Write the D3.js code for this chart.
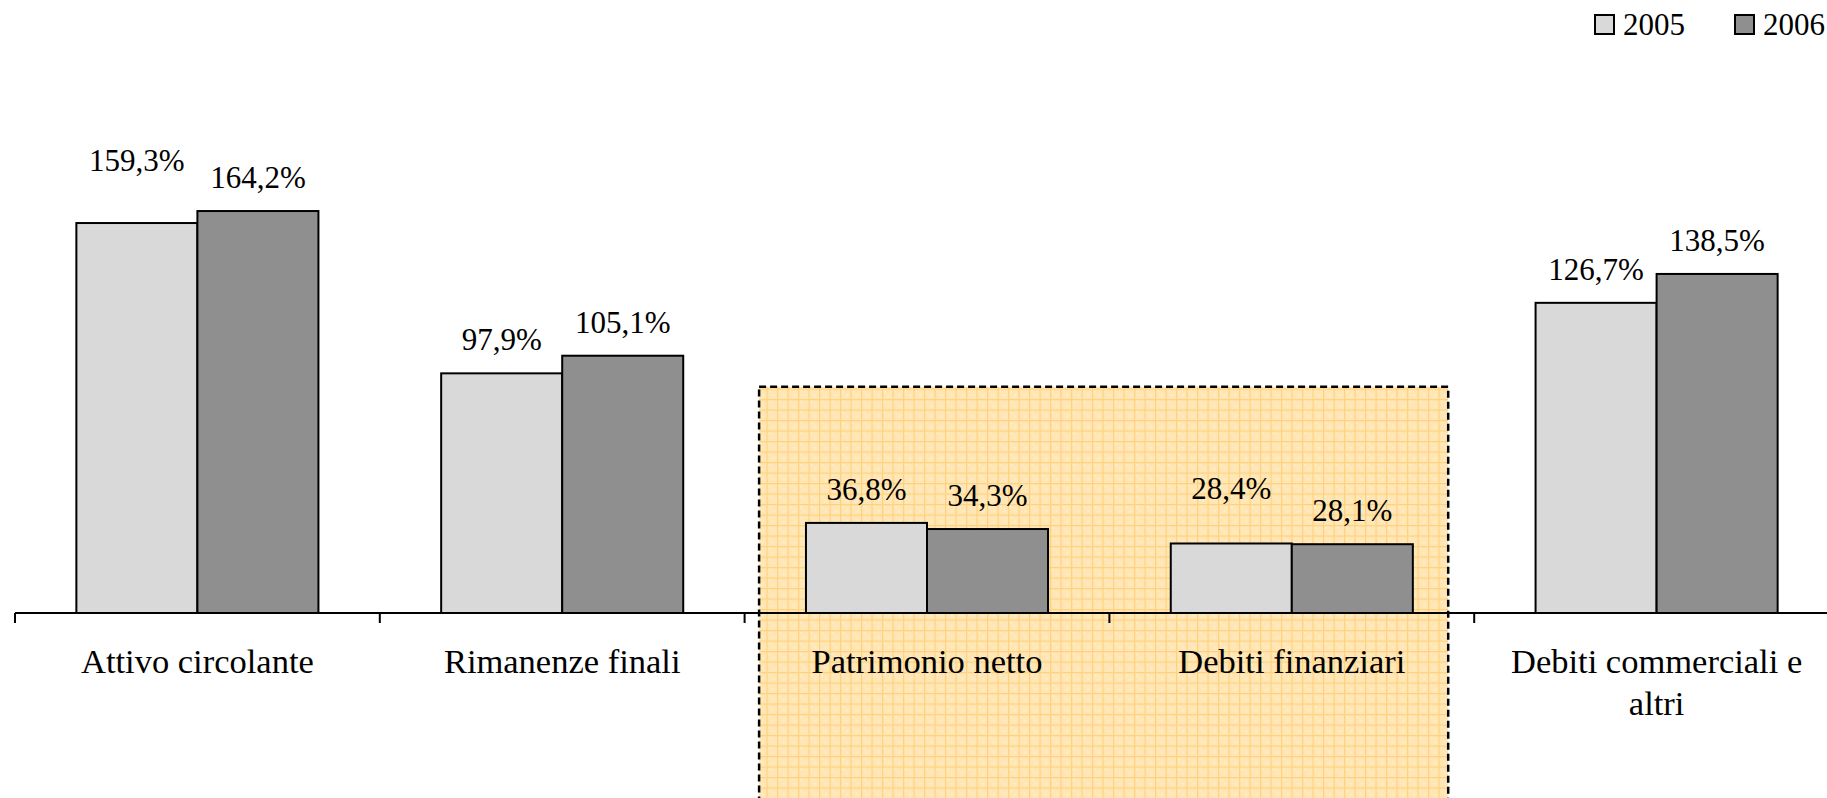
<!DOCTYPE html>
<html>
<head>
<meta charset="utf-8" />
<title>Indici di rotazione 2005-2006</title>
<style>
html, body {
    margin: 0;
    padding: 0;
    background: #fff;
}
#chart {
    width: 1827px;
    height: 798px;
    overflow: hidden;
}
text {
    font-family: "Liberation Serif", "Times New Roman", serif;
    fill: #000;
}
</style>
</head>
<body>
<div id="chart"></div>
<script src="https://cdnjs.cloudflare.com/ajax/libs/d3/7.8.5/d3.min.js"></script>
<script>
// data
var categories = ["Attivo circolante", "Rimanenze finali", "Patrimonio netto", "Debiti finanziari", "Debiti commerciali e altri"]
var years = ["2005", "2006"]
var values2005 = [159.3, 97.9, 36.8, 28.4, 126.7]
var values2006 = [164.2, 105.1, 34.3, 28.1, 138.5]
var highlighted = ["Patrimonio netto", "Debiti finanziari"]

!(function(){
    "use strict"

    var width = 1827, height = 798
    var margin = {top: 0, left: 15, bottom: 185, right: 0}
    var baseline = height - margin.bottom   // 613
    var step = 364.8

    var fills = {"2005": "#d9d9d9", "2006": "#8f8f8f"}

    // a couple of labels were nudged upward by hand in the original
    var labelShift = {"Attivo circolante|2005": -29, "Debiti finanziari|2005": -21}

    var svg = d3.select("#chart").append("svg")
        .attr("width", width)
        .attr("height", height)

    var rows = categories.map(function(c, i) {
        return {cat: c, vals: [
            {cat: c, year: "2005", v: values2005[i]},
            {cat: c, year: "2006", v: values2006[i]}
        ]}
    })

    var x0 = d3.scaleBand()
        .domain(categories)
        .range([margin.left, margin.left + step * categories.length])
        .padding(0)

    var x1 = d3.scaleBand()
        .domain(years)
        .range([0, x0.bandwidth()])
        .paddingInner(0)
        .paddingOuter(0.507)

    var y = d3.scaleLinear()
        .domain([0, 180])
        .range([baseline, baseline - 180 * 2.448])

    // hatched highlight box behind the two equity/debt groups
    var defs = svg.append("defs")
    var pat = defs.append("pattern")
        .attr("id", "grid")
        .attr("patternUnits", "userSpaceOnUse")
        .attr("width", 10.5)
        .attr("height", 10.5)
    pat.append("rect").attr("width", 10.5).attr("height", 10.5).attr("fill", "#ffe6b4")
    pat.append("rect").attr("x", 2).attr("y", 2).attr("width", 2).attr("height", 2).attr("fill", "#ffedc8")
    pat.append("rect").attr("x", 6).attr("y", 6).attr("width", 2).attr("height", 2).attr("fill", "#ffedc8")
    pat.append("path")
        .attr("d", "M0,0.5H10.5M0.5,0V10.5")
        .attr("stroke", "#ffd27e")
        .attr("stroke-width", 1.4)

    var hx0 = x0(highlighted[0]) + 14.5
    var hx1 = x0(highlighted[1]) + x0.bandwidth() - 26
    var hy = y(92.4)
    svg.append("rect")
        .attr("x", hx0)
        .attr("y", hy)
        .attr("width", hx1 - hx0)
        .attr("height", height - hy + 10)
        .attr("fill", "url(#grid)")
        .attr("stroke", "#000")
        .attr("stroke-width", 2.5)
        .attr("stroke-dasharray", "7,4")

    // bars
    var group = svg.append("g")
        .selectAll("g")
        .data(rows)
        .enter().append("g")
        .attr("transform", function(d) { return "translate(" + x0(d.cat) + ",0)" })

    group.selectAll("rect")
        .data(function(d) { return d.vals })
        .enter().append("rect")
        .attr("x", function(d) { return x1(d.year) })
        .attr("y", function(d) { return y(d.v) })
        .attr("width", x1.bandwidth())
        .attr("height", function(d) { return baseline - y(d.v) })
        .attr("fill", function(d) { return fills[d.year] })
        .attr("stroke", "#000")
        .attr("stroke-width", 2)

    group.selectAll("text.val")
        .data(function(d) { return d.vals })
        .enter().append("text")
        .attr("class", "val")
        .attr("x", function(d) { return x1(d.year) + x1.bandwidth() / 2 })
        .attr("y", function(d) { return y(d.v) - 23 + (labelShift[d.cat + "|" + d.year] || 0) })
        .attr("text-anchor", "middle")
        .style("font-size", "31px")
        .text(function(d) { return d3.format(".1f")(d.v).replace(".", ",") + "%" })

    // category axis: ticks sit on the group boundaries
    svg.append("line")
        .attr("x1", margin.left)
        .attr("x2", width)
        .attr("y1", baseline)
        .attr("y2", baseline)
        .attr("stroke", "#000")
        .attr("stroke-width", 2.2)

    svg.append("g")
        .selectAll("line")
        .data(categories)
        .enter().append("line")
        .attr("x1", function(d) { return x0(d) })
        .attr("x2", function(d) { return x0(d) })
        .attr("y1", baseline)
        .attr("y2", baseline + 10)
        .attr("stroke", "#000")
        .attr("stroke-width", 2)

    svg.append("g")
        .selectAll("text")
        .data(categories)
        .enter().append("text")
        .attr("x", function(d) { return x0(d) + x0.bandwidth() / 2 })
        .attr("y", baseline + 60)
        .attr("text-anchor", "middle")
        .style("font-size", "34.5px")
        .text(function(d) { return d })
        .call(wrap, x0.bandwidth() * 0.85)

    function wrap(texts, maxWidth) {
        texts.each(function() {
            var text = d3.select(this)
            var words = text.text().split(/\s+/)
            var cx = text.attr("x")
            var line = []
            var tspan = text.text(null).append("tspan").attr("x", cx).attr("dy", 0)
            words.forEach(function(w) {
                line.push(w)
                tspan.text(line.join(" "))
                if (tspan.node().getComputedTextLength() > maxWidth && line.length > 1) {
                    line.pop()
                    tspan.text(line.join(" "))
                    line = [w]
                    tspan = text.append("tspan").attr("x", cx).attr("dy", 41.5).text(w)
                }
            })
        })
    }

    // legend, top right
    var legend = svg.append("g")
        .selectAll("g")
        .data(years)
        .enter().append("g")
        .attr("transform", function(d, i) { return "translate(" + (1595 + i * 140) + ",15)" })

    legend.append("rect")
        .attr("width", 19)
        .attr("height", 19)
        .attr("fill", function(d) { return fills[d] })
        .attr("stroke", "#000")
        .attr("stroke-width", 2)

    legend.append("text")
        .attr("x", 28)
        .attr("y", 20)
        .style("font-size", "31px")
        .text(function(d) { return d })
}())
</script>
</body>
</html>
